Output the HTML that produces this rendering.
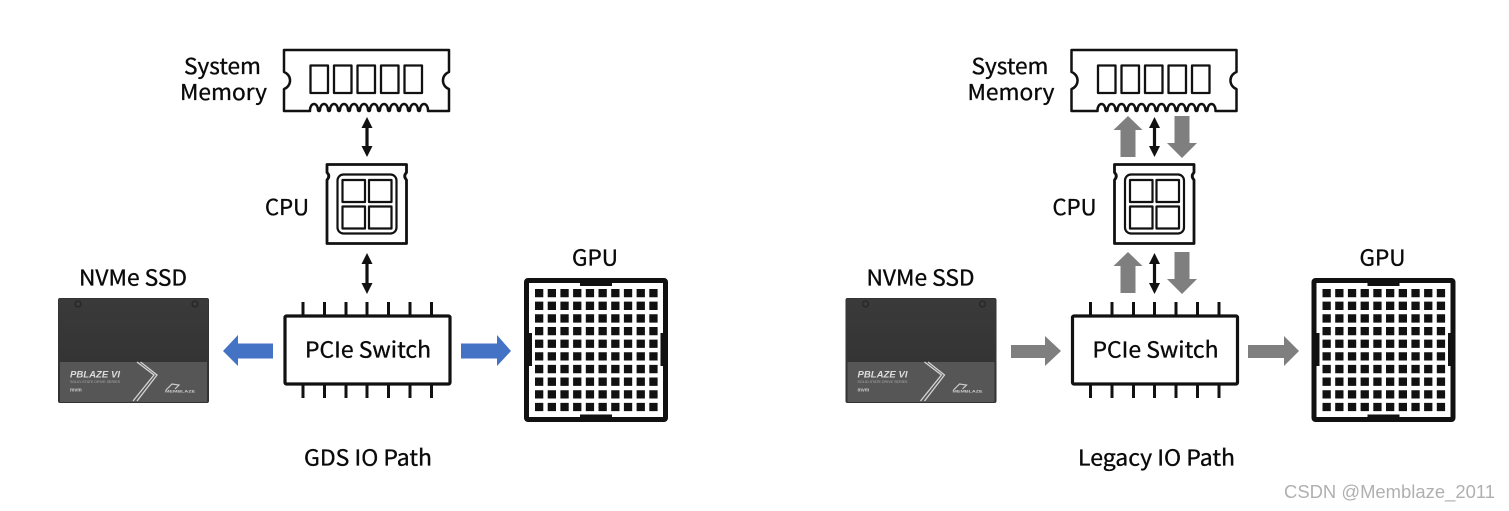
<!DOCTYPE html>
<html>
<head>
<meta charset="utf-8">
<style>
html,body{margin:0;padding:0;background:#fff;width:1509px;height:511px;overflow:hidden}
svg{display:block}
text{font-family:"Noto Sans CJK SC","Liberation Sans",sans-serif;font-size:22px;fill:#0a0a0a;stroke:#0a0a0a;stroke-width:.35px}
text.s{stroke:none}
</style>
</head>
<body>
<svg width="1509" height="511" viewBox="0 0 1509 511" xmlns="http://www.w3.org/2000/svg">
<defs>
<linearGradient id="top" x1="0" y1="0" x2="0" y2="1"><stop offset="0" stop-color="#3a3a3a"/><stop offset="1" stop-color="#343434"/></linearGradient>
<g id="mem" fill="none" stroke="#111" stroke-width="2.500" stroke-linejoin="round">
<path d="M284 50H449V72A9 9 0 0 0 449 89V111H428V110a4 6 0 0 0 -8 0a1 1 0 0 1 -2 0a4 6 0 0 0 -8 0a1 1 0 0 1 -2 0a4 6 0 0 0 -8 0a1 1 0 0 1 -2 0a4 6 0 0 0 -8 0a1 1 0 0 1 -2 0a4 6 0 0 0 -8 0a1 1 0 0 1 -2 0a4 6 0 0 0 -8 0a1 1 0 0 1 -2 0a4 6 0 0 0 -8 0a1 1 0 0 1 -2 0a4 6 0 0 0 -8 0a1 1 0 0 1 -2 0a4 6 0 0 0 -8 0a1 1 0 0 1 -2 0a4 6 0 0 0 -8 0a1 1 0 0 1 -2 0a4 6 0 0 0 -8 0a1 1 0 0 1 -2 0a4 6 0 0 0 -8 0V111H284V89A9 9 0 0 0 284 72Z"/>
<g stroke-width="2.300">
<rect x="310.500" y="65.500" width="17.500" height="27.500"/>
<rect x="334" y="65.500" width="17.500" height="27.500"/>
<rect x="357.500" y="65.500" width="17.500" height="27.500"/>
<rect x="381" y="65.500" width="17.500" height="27.500"/>
<rect x="404.500" y="65.500" width="17.500" height="27.500"/>
</g>
</g>
<g id="cpu" fill="none" stroke="#111" stroke-width="2.200" stroke-linejoin="round">
<path d="M327 164.500H406.500V172.500Q403 176 406.500 180V243.500H327V180Q330.500 176 327 172.500Z" stroke-width="2.800"/>
<rect x="337.500" y="174.500" width="59" height="59" rx="6"/>
<rect x="342.500" y="180" width="22.500" height="22"/>
<rect x="369" y="180" width="22.500" height="22"/>
<rect x="342.500" y="206.500" width="22.500" height="22"/>
<rect x="369" y="206.500" width="22.500" height="22"/>
</g>
<g id="sw">
<rect x="285" y="316" width="165" height="68" rx="1.500" fill="#fff" stroke="#111" stroke-width="3.200"/>
<path stroke="#111" stroke-width="3" d="M303 302V315M324.500 302V315M346 302V315M367 302V315M388.500 302V315M410 302V315M431.500 302V315M303 385V398M324.500 385V398M346 385V398M367 385V398M388.500 385V398M410 385V398M431.500 385V398"/>
</g>
<g id="dbl">
<path d="M367 117L372.500 128H368.600V146H372.500L367 157L361.500 146H365.400V128H361.500Z" fill="#111"/>
<path d="M367 253L372.500 264H368.600V283H372.500L367 294L361.500 283H365.400V264H361.500Z" fill="#111"/>
</g>
<g id="ssd">
<rect x="58" y="298" width="151" height="105" rx="2" fill="#333"/>
<rect x="59" y="299" width="149" height="63" fill="url(#top)"/>
<rect x="60" y="362" width="147" height="40" fill="#565656"/>
<circle cx="78" cy="304" r="3" fill="none" stroke="#222"/>
<circle cx="195" cy="304" r="3" fill="none" stroke="#222"/>
<path d="M137 362L154 375L133 401M140.500 362L157 375L137 401" fill="none" stroke="#d5d5d5" stroke-width="1.300"/>
<path d="M166 390L172 384L179 385L175 389" fill="none" stroke="#ccc" stroke-width="1.200"/>
</g>
<g id="gpu">
<rect x="526.500" y="280.500" width="139" height="139" rx="1.500" fill="#fff" stroke="#111" stroke-width="5"/>
<rect x="580" y="281" width="32" height="5" fill="#111"/>
<rect x="580" y="414.500" width="32" height="5" fill="#111"/>
<rect x="527" y="333" width="5" height="33" fill="#111"/>
<rect x="660.500" y="333" width="5" height="33" fill="#111"/>
<path id="g" fill="#111" d="M535 289h8.300v8.300h-8.300zM547.700 289h8.300v8.300h-8.300zM560.400 289h8.300v8.300h-8.300zM573.100 289h8.300v8.300h-8.300zM585.800 289h8.300v8.300h-8.300zM598.500 289h8.300v8.300h-8.300zM611.200 289h8.300v8.300h-8.300zM623.900 289h8.300v8.300h-8.300zM636.600 289h8.300v8.300h-8.300zM649.300 289h8.300v8.300h-8.300z"/>
<use href="#g" y="12.650"/>
<use href="#g" y="25.300"/>
<use href="#g" y="37.950"/>
<use href="#g" y="50.600"/>
<use href="#g" y="63.250"/>
<use href="#g" y="75.900"/>
<use href="#g" y="88.550"/>
<use href="#g" y="101.200"/>
<use href="#g" y="113.850"/>
</g>
</defs>

<!-- left diagram -->
<use href="#mem"/>
<use href="#cpu"/>
<use href="#sw"/>
<use href="#dbl"/>
<use href="#ssd"/>
<use href="#gpu"/>
<path d="M223 351L238 335V343.500H273V358.500H238V366Z" fill="#4472c4"/>
<path d="M461 343.500H497V335L511 351L497 366V358.500H461Z" fill="#4472c4"/>
<text x="184" y="74" textLength="77" lengthAdjust="spacingAndGlyphs">System</text>
<text x="180" y="100" textLength="87" lengthAdjust="spacingAndGlyphs">Memory</text>
<text x="265" y="215" textLength="44" lengthAdjust="spacingAndGlyphs">CPU</text>
<text x="79" y="285.500" textLength="108" lengthAdjust="spacingAndGlyphs">NVMe SSD</text>
<text x="572" y="265.500" textLength="46" lengthAdjust="spacingAndGlyphs">GPU</text>
<text x="305" y="357.500" textLength="126" lengthAdjust="spacingAndGlyphs">PCIe Switch</text>
<text x="304" y="465.500" textLength="128" lengthAdjust="spacingAndGlyphs">GDS IO Path</text>
<text class="s" x="70" y="377.500" style="font:italic bold 9px 'Liberation Sans',sans-serif;fill:#ddd" textLength="50" lengthAdjust="spacingAndGlyphs">PBLAZE VI</text>
<text class="s" x="70" y="383" style="font:4px 'Liberation Sans',sans-serif;fill:#aaa" textLength="50" lengthAdjust="spacingAndGlyphs">SOLID-STATE DRIVE SERIES</text>
<text class="s" x="70" y="391.500" style="font:bold 5px 'Liberation Sans',sans-serif;fill:#ccc">mvm</text>
<text class="s" x="165" y="392.500" style="font:bold 4px 'Liberation Sans',sans-serif;fill:#ccc" textLength="30" lengthAdjust="spacingAndGlyphs">MEMBLAZE</text>

<!-- right diagram -->
<g transform="translate(787.500 0)">
<use href="#mem"/>
<use href="#cpu"/>
<use href="#sw"/>
<use href="#dbl"/>
<use href="#ssd"/>
<use href="#gpu"/>
<text x="184" y="74" textLength="77" lengthAdjust="spacingAndGlyphs">System</text>
<text x="180" y="100" textLength="87" lengthAdjust="spacingAndGlyphs">Memory</text>
<text x="265" y="215" textLength="44" lengthAdjust="spacingAndGlyphs">CPU</text>
<text x="79" y="285.500" textLength="108" lengthAdjust="spacingAndGlyphs">NVMe SSD</text>
<text x="572" y="265.500" textLength="46" lengthAdjust="spacingAndGlyphs">GPU</text>
<text x="305" y="357.500" textLength="126" lengthAdjust="spacingAndGlyphs">PCIe Switch</text>
<text class="s" x="70" y="377.500" style="font:italic bold 9px 'Liberation Sans',sans-serif;fill:#ddd" textLength="50" lengthAdjust="spacingAndGlyphs">PBLAZE VI</text>
<text class="s" x="70" y="383" style="font:4px 'Liberation Sans',sans-serif;fill:#aaa" textLength="50" lengthAdjust="spacingAndGlyphs">SOLID-STATE DRIVE SERIES</text>
<text class="s" x="70" y="391.500" style="font:bold 5px 'Liberation Sans',sans-serif;fill:#ccc">mvm</text>
<text class="s" x="165" y="392.500" style="font:bold 4px 'Liberation Sans',sans-serif;fill:#ccc" textLength="30" lengthAdjust="spacingAndGlyphs">MEMBLAZE</text>
</g>
<text x="1078" y="465.500" textLength="157" lengthAdjust="spacingAndGlyphs">Legacy IO Path</text>

<g fill="#7f7f7f">
<path d="M1128 116L1142.500 130H1135.500V157H1120.500V130H1113.500Z"/>
<path d="M1174.500 116H1189.500V143H1197L1182 158L1167 143H1174.500Z"/>
<path d="M1128 252L1142.500 266H1135.500V293H1120.500V266H1113.500Z"/>
<path d="M1174.500 252H1189.500V279H1197L1182 294L1167 279H1174.500Z"/>
<path d="M1011 345H1045V336L1061 351L1045 366V358H1011Z"/>
<path d="M1248 345H1284V336L1299 351L1284 366V358H1248Z"/>
</g>

<text class="s" x="1284" y="498" style="font:18px 'Liberation Sans',sans-serif;fill:#b0b0b0" textLength="211" lengthAdjust="spacingAndGlyphs">CSDN @Memblaze_2011</text>
</svg>
</body>
</html>
